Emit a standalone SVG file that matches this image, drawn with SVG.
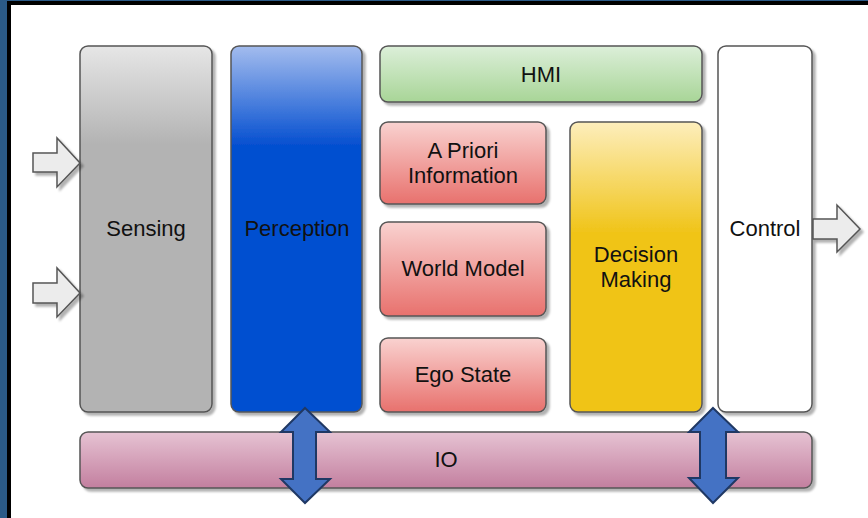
<svg xmlns="http://www.w3.org/2000/svg" width="868" height="518" viewBox="0 0 868 518">
<defs>
<filter id="sh" x="-10%" y="-10%" width="130%" height="130%"><feDropShadow dx="3" dy="3" stdDeviation="1.2" flood-color="#000" flood-opacity="0.3"/></filter>
<linearGradient id="gGray" x1="0" y1="0" x2="0" y2="1"><stop offset="0" stop-color="#e6e6e6"/><stop offset="0.27" stop-color="#b3b3b3"/><stop offset="1" stop-color="#b3b3b3"/></linearGradient>
<linearGradient id="gBlue" x1="0" y1="0" x2="0" y2="1"><stop offset="0" stop-color="#a3bcee"/><stop offset="0.27" stop-color="#0650d0"/><stop offset="1" stop-color="#0650d0"/></linearGradient>
<linearGradient id="gGreen" x1="0" y1="0" x2="0" y2="1"><stop offset="0" stop-color="#dcefd9"/><stop offset="1" stop-color="#a8d597"/></linearGradient>
<linearGradient id="gRed" x1="0" y1="0" x2="0" y2="1"><stop offset="0" stop-color="#f9d2d0"/><stop offset="1" stop-color="#e8716d"/></linearGradient>
<linearGradient id="gYellow" x1="0" y1="0" x2="0" y2="1"><stop offset="0" stop-color="#fdeebc"/><stop offset="0.38" stop-color="#f0c419"/><stop offset="1" stop-color="#f0c419"/></linearGradient>
<linearGradient id="gPink" x1="0" y1="0" x2="0" y2="1"><stop offset="0" stop-color="#e6c3d3"/><stop offset="1" stop-color="#c37f9f"/></linearGradient>
</defs>
<style>
.box{stroke:#555;stroke-width:1.5;filter:url(#sh)}
.lbl{font-family:"Liberation Sans",Arial,sans-serif;font-size:22px;fill:#111;text-anchor:middle}
.arr{fill:#ececec;stroke:#555;stroke-width:1.5;filter:url(#sh)}
.dbl{fill:#4472c4;stroke:#1f3864;stroke-width:2}
</style>
<rect x="0" y="0" width="868" height="518" fill="#2b5a87"/>
<rect x="7" y="1" width="861" height="517" fill="#000"/>
<rect x="11" y="5" width="857" height="513" fill="#fff"/>

<g id="sensing"><rect class="box" x="80" y="46" width="132" height="366" rx="8" fill="url(#gGray)"/><text class="lbl" x="146" y="236">Sensing</text></g>
<g id="perception"><rect class="box" x="231" y="46" width="131" height="366" rx="8" fill="url(#gBlue)"/><text class="lbl" x="297" y="236">Perception</text></g>
<g id="hmi"><rect class="box" x="380" y="46" width="322" height="56" rx="8" fill="url(#gGreen)"/><text class="lbl" x="541" y="82">HMI</text></g>
<g id="apriori"><rect class="box" x="380" y="122" width="166" height="82" rx="8" fill="url(#gRed)"/><text class="lbl" x="463" y="158">A Priori</text><text class="lbl" x="463" y="183">Information</text></g>
<g id="worldmodel"><rect class="box" x="380" y="222" width="166" height="94" rx="8" fill="url(#gRed)"/><text class="lbl" x="463" y="276">World Model</text></g>
<g id="egostate"><rect class="box" x="380" y="338" width="166" height="74" rx="8" fill="url(#gRed)"/><text class="lbl" x="463" y="382">Ego State</text></g>
<g id="decision"><rect class="box" x="570" y="122" width="132" height="290" rx="8" fill="url(#gYellow)"/><text class="lbl" x="636" y="262">Decision</text><text class="lbl" x="636" y="287">Making</text></g>
<g id="control"><rect class="box" x="718" y="46" width="94" height="366" rx="8" fill="#fff"/><text class="lbl" x="765" y="236">Control</text></g>
<g id="io"><rect class="box" x="80" y="432" width="732" height="56" rx="8" fill="url(#gPink)"/><text class="lbl" x="446" y="467">IO</text></g>

<g id="connectors">
<polygon class="arr" points="33,153 57,153 57,138 80,163 57,187 57,172 33,172"/>
<polygon class="arr" points="33,283 57,283 57,268 80,293 57,317 57,303 33,303"/>
<polygon class="arr" points="813,219 837,219 837,205 860,229 837,252 837,239 813,239"/>
<polygon class="dbl" points="305,408 330,432 316,432 316,479 330,479 305,503 281,479 293,479 293,432 281,432"/>
<polygon class="dbl" points="713,408 738,432 726,432 726,478 738,478 713,503 689,478 700,478 700,432 689,432"/>
</g>
</svg>
